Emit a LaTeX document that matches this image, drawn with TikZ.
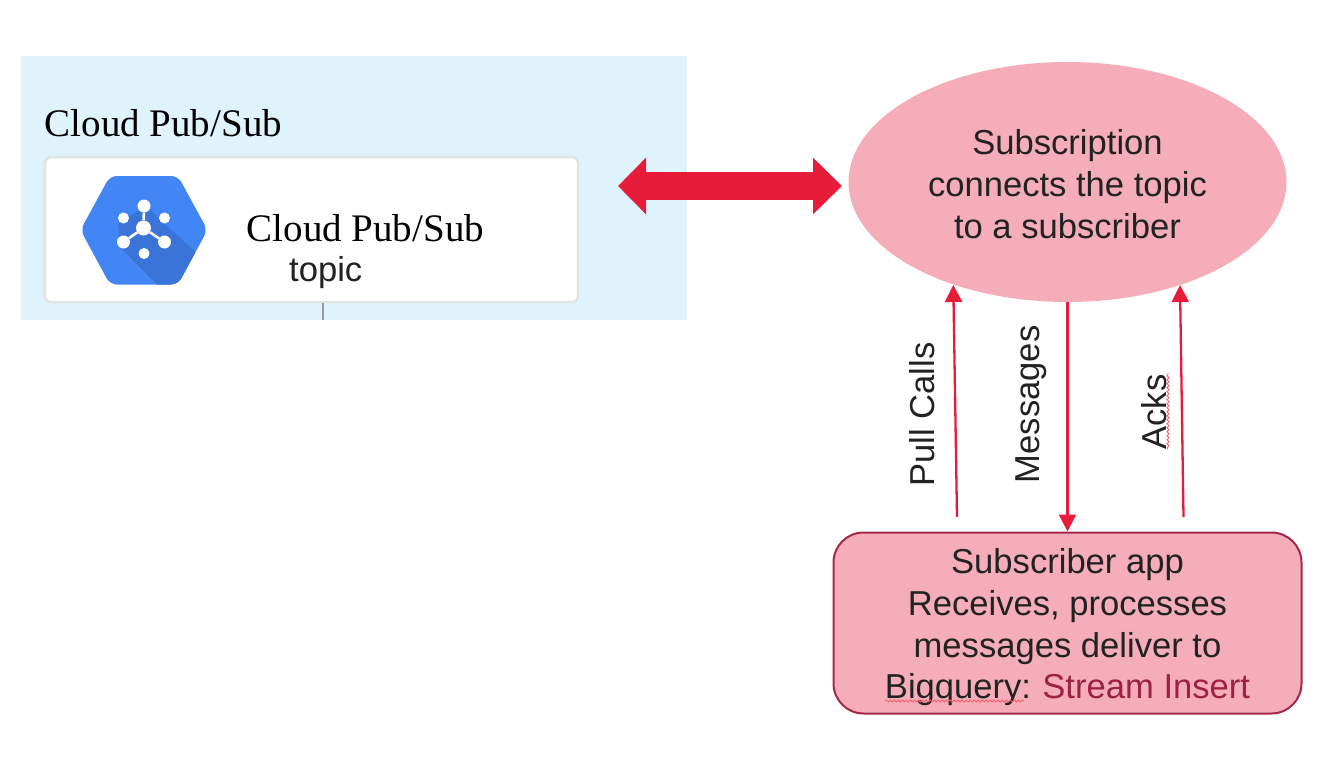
\documentclass[tikz,border=0pt]{standalone}
\usepackage{fontspec}
\setmainfont{Liberation Sans}
\newfontfamily\serifface{Liberation Serif}
\usetikzlibrary{arrows.meta,decorations.pathmorphing,shapes.geometric}
\definecolor{panelblue}{HTML}{DFF3FD}
\definecolor{cardedge}{HTML}{E2E3E3}
\definecolor{stubgray}{HTML}{9A9A9A}
\definecolor{pinkfill}{HTML}{F5AEB9}
\definecolor{boxedge}{HTML}{A5274A}
\definecolor{redarrow}{HTML}{E61C3A}
\definecolor{inktext}{HTML}{222222}
\definecolor{insert}{HTML}{9B2244}
\definecolor{hexblue}{HTML}{4285F4}
\definecolor{hexdark}{HTML}{3B74D8}
\definecolor{wavy}{HTML}{F0606A}
\tikzset{
  sanslabel/.style={font=\fontsize{34.6}{41.8}\selectfont, text=inktext, inner sep=0pt, align=center},
  serifhead/.style={font=\serifface\fontsize{39}{42}\selectfont, text=black, inner sep=0pt, anchor=base west},
  thinflow/.style={draw=redarrow, line width=2.3pt, -{Triangle[length=17pt,width=17pt]}},
  bigflow/.style={draw=redarrow, line width=28pt, {Triangle[length=28pt,width=55pt]}-{Triangle[length=29pt,width=55pt]}},
  squiggle/.style={draw=wavy, line width=0.8pt, decorate, decoration={snake, amplitude=1pt, segment length=4pt}},
  iconlink/.style={draw=white, line width=2.6pt},
  icondot/.style={circle, fill=white, inner sep=0pt},
}
\begin{document}
\begin{tikzpicture}[x=1pt,y=-1pt]
\useasboundingbox (0,0) rectangle (1326,766);
% left panel
\node[fill=panelblue, inner sep=0pt, minimum width=666pt, minimum height=264pt] (panel) at (354,188) {};
\node[serifhead] (paneltitle) at (44.5,136) {Cloud Pub/Sub};
\node[draw=cardedge, line width=2.5pt, fill=white, rounded corners=6pt, inner sep=0pt, minimum width=533pt, minimum height=145pt] (card) at (311.5,229.5) {};
\coordinate (stubend) at (323,320);
\draw[stubgray, line width=2pt] (card.south -| stubend) -- (stubend);
% hexagon icon
\fill[hexblue, rounded corners=7pt] (80.5,230) -- (110,176) -- (178,176) -- (207.5,230) -- (178,284.5) -- (110,284.5) -- cycle;
\begin{scope}
\clip[rounded corners=7pt] (80.5,230) -- (110,176) -- (178,176) -- (207.5,230) -- (178,284.5) -- (110,284.5) -- cycle;
\fill[hexdark] (146,206) -- (220,275) -- (190,300) -- (172,300) -- (120,247) -- (118,224) -- cycle;
\end{scope}
\node[icondot, minimum size=15pt] (hub) at (143.5,228) {};
\node[icondot, minimum size=13pt] (itop) at (144,206) {};
\node[icondot, minimum size=11pt] (iul) at (123.5,218) {};
\node[icondot, minimum size=11pt] (iur) at (164.5,218) {};
\node[icondot, minimum size=13pt] (ill) at (123.5,242) {};
\node[icondot, minimum size=13pt] (ilr) at (164.5,242) {};
\node[icondot, minimum size=11pt] (ibot) at (144,253.5) {};
\draw[iconlink] (hub) -- (itop);
\draw[iconlink] (hub) -- (ill);
\draw[iconlink] (hub) -- (ilr);
\node[serifhead] (cardtitle) at (246.5,241) {Cloud Pub/Sub};
\node[sanslabel, anchor=base west] (topic) at (289,281) {topic};
% subscription
\node[ellipse, fill=pinkfill, inner sep=0pt, minimum width=438pt, minimum height=240pt, sanslabel] (sub) at (1067.5,182) {\rule{0pt}{29.5pt}Subscription\\connects the topic\\to a subscriber};
% subscriber app
\node[draw=boxedge, line width=2pt, fill=pinkfill, rounded corners=30pt, inner sep=0pt, minimum width=468pt, minimum height=181pt, sanslabel] (app) at (1067.5,623) {\rule{0pt}{33.5pt}Subscriber app\\Receives, processes\\messages deliver to\\Bigquery:\hspace{-1.5pt} \textcolor{insert}{Stream Insert}};
% connectors
\coordinate (bigL) at (618,186);
\coordinate (bigR) at (842,186);
\draw[bigflow] (bigL) -- (bigR);
\coordinate (pullS) at (957,517);
\coordinate (pullE) at (953.3,285);
\coordinate (ackS) at (1183.5,517);
\coordinate (ackE) at (1180,285);
\draw[thinflow] (pullS) -- (pullE);
\draw[thinflow] (sub.south) -- (app.north);
\draw[thinflow] (ackS) -- (ackE);
% labels
\node[sanslabel, rotate=90, anchor=base] (pull) at (934,414.5) {Pull Calls};
\node[sanslabel, rotate=90, anchor=base] (msgs) at (1039.5,404.5) {Messages};
\node[sanslabel, rotate=90, anchor=base] (acks) at (1166,412) {Acks};
% spell-check squiggles
\coordinate (sqA1) at (1168,449);
\coordinate (sqA2) at (1168,373);
\coordinate (sqB1) at (885,701);
\coordinate (sqB2) at (1024,701);
\draw[squiggle] (sqA1) -- (sqA2);
\draw[squiggle] (sqB1) -- (sqB2);
\end{tikzpicture}
\end{document}
